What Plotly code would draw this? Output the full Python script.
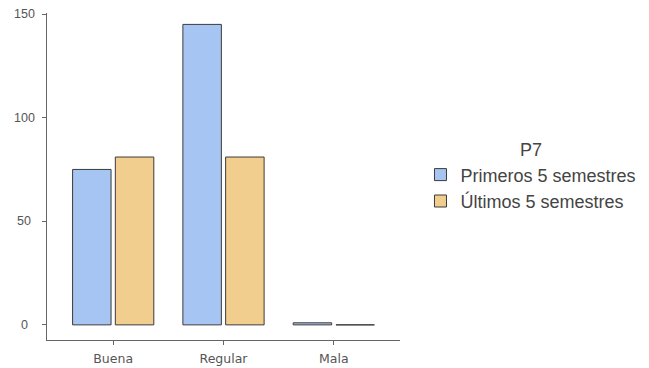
import plotly.graph_objects as go

categories = ["Buena", "Regular", "Mala"]
primeros = [75, 145, 1]
ultimos = [81, 81, 0]
series_names = ["Primeros 5 semestres", "Últimos 5 semestres"]
y_ticks = [0, 50, 100, 150]

fig = go.Figure()
fig.add_trace(go.Bar(x=categories, y=primeros, name=series_names[0],
                     marker=dict(color="#A7C5F2", line=dict(color="#3b3b3b", width=1))))
fig.add_trace(go.Bar(x=categories, y=ultimos, name=series_names[1],
                     marker=dict(color="#F1CD8E", line=dict(color="#3b3b3b", width=1))))

# y tick labels, centred like the reference
for v in y_ticks:
    fig.add_annotation(x=0, xref="paper", y=v, yref="y", text=str(v),
                       showarrow=False, xanchor="center", yanchor="middle",
                       xshift=-23, font=dict(size=12.5, color="#555",
                                             family="Liberation Sans, Arial, sans-serif"))

fig.update_layout(
    width=641, height=360,
    margin=dict(l=39, r=249, t=5, b=28),
    paper_bgcolor="white", plot_bgcolor="white",
    barmode="group", bargap=0.225, bargroupgap=0.1,
    font=dict(family="Liberation Sans, Arial, sans-serif", color="#444"),
    legend=dict(
        title=dict(text="P7", side="top center", font=dict(size=18, color="#444")),
        font=dict(size=18, color="#444"),
        x=1.058, xanchor="left", y=0.5, yanchor="middle",
        bgcolor="rgba(0,0,0,0)", tracegroupgap=0,
    ),
    showlegend=True,
)
fig.update_xaxes(
    range=[-0.6, 2.6], showline=True, linecolor="#666", linewidth=1.3,
    ticks="outside", ticklen=4, tickcolor="#666", automargin=False,
    tickfont=dict(size=12.5, color="#555", family="DejaVu Sans, sans-serif"),
    showgrid=False, zeroline=False, ticklabeloverflow="allow", ticklabelstandoff=3,
)
fig.update_yaxes(
    range=[-7.3, 150.5], tickvals=y_ticks, showline=True, linecolor="#666", linewidth=1.3,
    ticks="outside", ticklen=4, tickcolor="#666", automargin=False,
    showticklabels=False, showgrid=False, zeroline=False,
)

fig.write_html("out.html")
